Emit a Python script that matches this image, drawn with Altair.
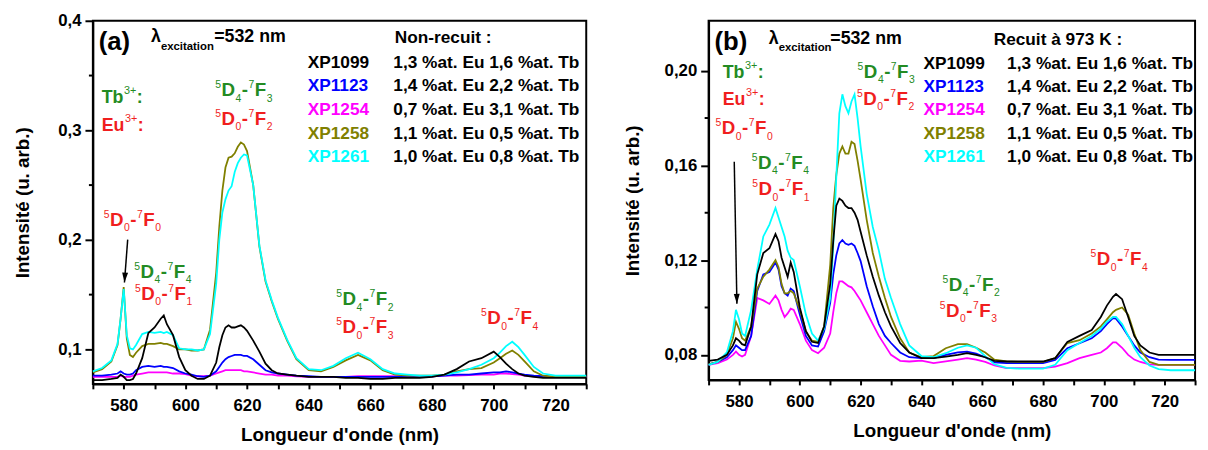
import altair as alt
import pandas as pd

FONT = "Liberation Sans"
GREEN = "#238b23"
RED = "#f01e1e"

SAMPLES = ["XP1099", "XP1123", "XP1254", "XP1258", "XP1261"]
SAMPLE_COLORS = ["#000000", "#0000ff", "#ff00ff", "#808000", "#00ffff"]
COMPOSITIONS = ["1,3 %at. Eu 1,6 %at. Tb", "1,4 %at. Eu 2,2 %at. Tb",
                "0,7 %at. Eu 3,1 %at. Tb", "1,1 %at. Eu 0,5 %at. Tb",
                "1,0 %at. Eu 0,8 %at. Tb"]
DRAW_ORDER = ["XP1254", "XP1123", "XP1258", "XP1261", "XP1099"]

# ---------------- panel (a) : non-recuit ----------------
WL_A = [570, 573, 576, 578, 579, 580, 581, 582, 583, 584,
        586, 588, 590, 592, 593, 594, 596, 598, 600, 602,
        604, 606, 608, 610, 611, 612, 613, 614, 615, 616,
        617, 618, 619, 620, 622, 624, 626, 628, 630, 633,
        636, 640, 644, 648, 652, 656, 660, 664, 668, 672,
        676, 680, 684, 688, 692, 696, 700, 702, 704, 706,
        708, 710, 713, 716, 720, 725, 730]
A_XP1099 = [0.072, 0.072, 0.073, 0.074, 0.077, 0.075, 0.072, 0.072, 0.073, 0.078,
            0.092, 0.115, 0.120, 0.128, 0.131, 0.123, 0.113, 0.093, 0.081, 0.076,
            0.073, 0.073, 0.076, 0.088, 0.102, 0.113, 0.120, 0.122, 0.120, 0.120,
            0.121, 0.122, 0.120, 0.117, 0.108, 0.098, 0.087, 0.081, 0.078, 0.077,
            0.076, 0.075, 0.075, 0.075, 0.074, 0.074, 0.073, 0.073, 0.074, 0.074,
            0.074, 0.075, 0.077, 0.082, 0.089, 0.092, 0.098, 0.093, 0.087, 0.082,
            0.078, 0.076, 0.075, 0.074, 0.074, 0.074, 0.074]
A_XP1123 = [0.076, 0.076, 0.077, 0.078, 0.080, 0.078, 0.077, 0.077, 0.078, 0.081,
            0.084, 0.085, 0.084, 0.085, 0.084, 0.084, 0.083, 0.080, 0.078, 0.077,
            0.0755, 0.075, 0.076, 0.080, 0.084, 0.088, 0.091, 0.093, 0.094, 0.095,
            0.095, 0.095, 0.094, 0.094, 0.091, 0.086, 0.081, 0.079, 0.078, 0.077,
            0.076, 0.0755, 0.075, 0.075, 0.075, 0.075, 0.075, 0.075, 0.075, 0.075,
            0.075, 0.0755, 0.076, 0.077, 0.077, 0.078, 0.079, 0.079, 0.080, 0.079,
            0.078, 0.077, 0.076, 0.0755, 0.075, 0.075, 0.075]
A_XP1254 = [0.075, 0.075, 0.075, 0.075, 0.076, 0.075, 0.075, 0.075, 0.076, 0.077,
            0.078, 0.079, 0.079, 0.079, 0.079, 0.079, 0.078, 0.078, 0.0775, 0.076,
            0.0755, 0.0755, 0.076, 0.078, 0.079, 0.080, 0.081, 0.081, 0.081, 0.081,
            0.081, 0.081, 0.080, 0.080, 0.079, 0.078, 0.077, 0.077, 0.076, 0.076,
            0.0755, 0.075, 0.075, 0.075, 0.075, 0.0755, 0.0755, 0.0755, 0.0755, 0.0755,
            0.0755, 0.0755, 0.076, 0.076, 0.0765, 0.077, 0.077, 0.078, 0.078, 0.0775,
            0.077, 0.076, 0.0755, 0.075, 0.075, 0.075, 0.075]
A_XP1258 = [0.079, 0.082, 0.089, 0.104, 0.128, 0.157, 0.110, 0.095, 0.093, 0.097,
            0.103, 0.105, 0.105, 0.106, 0.105, 0.105, 0.103, 0.100, 0.100, 0.099,
            0.099, 0.100, 0.118, 0.170, 0.212, 0.245, 0.266, 0.275, 0.276, 0.279,
            0.285, 0.289, 0.287, 0.281, 0.250, 0.194, 0.162, 0.144, 0.128, 0.108,
            0.091, 0.081, 0.080, 0.084, 0.090, 0.095, 0.090, 0.081, 0.077, 0.076,
            0.076, 0.076, 0.077, 0.080, 0.082, 0.083, 0.088, 0.092, 0.096, 0.099,
            0.095, 0.089, 0.080, 0.076, 0.075, 0.075, 0.075]
A_XP1261 = [0.080, 0.083, 0.090, 0.105, 0.128, 0.155, 0.113, 0.101, 0.100, 0.104,
            0.114, 0.116, 0.115, 0.116, 0.115, 0.116, 0.113, 0.101, 0.100, 0.100,
            0.099, 0.100, 0.114, 0.160, 0.200, 0.225, 0.237, 0.245, 0.249, 0.262,
            0.270, 0.275, 0.278, 0.277, 0.250, 0.195, 0.163, 0.145, 0.129, 0.109,
            0.092, 0.082, 0.081, 0.085, 0.092, 0.097, 0.091, 0.082, 0.078, 0.077,
            0.076, 0.076, 0.077, 0.079, 0.082, 0.086, 0.092, 0.097, 0.103, 0.107,
            0.102, 0.095, 0.084, 0.078, 0.076, 0.076, 0.076]

# ---------------- panel (b) : recuit a 973 K ----------------
WL_B = [570, 573, 576, 578, 579, 580, 581, 582, 584, 586,
        588, 590, 592, 593, 594, 595, 596, 597, 598, 600,
        602, 604, 606, 608, 610, 611, 612, 613, 614, 615,
        616, 617, 618, 619, 620, 622, 624, 626, 628, 630,
        633, 636, 640, 644, 648, 652, 655, 658, 661, 664,
        668, 672, 676, 680, 684, 688, 692, 696, 699, 701,
        703, 704, 706, 708, 710, 712, 715, 718, 722, 726,
        730]
B_XP1099 = [0.0775, 0.078, 0.080, 0.084, 0.087, 0.086, 0.0845, 0.084, 0.092, 0.114,
            0.123, 0.125, 0.131, 0.128, 0.121, 0.117, 0.113, 0.119, 0.115, 0.100,
            0.090, 0.0855, 0.085, 0.092, 0.110, 0.128, 0.143, 0.146, 0.145, 0.143,
            0.142, 0.142, 0.140, 0.137, 0.132, 0.122, 0.113, 0.105, 0.098, 0.092,
            0.085, 0.081, 0.0786, 0.0786, 0.0793, 0.080, 0.0807, 0.080, 0.079, 0.0775,
            0.0772, 0.0772, 0.0772, 0.0772, 0.0786, 0.0855, 0.088, 0.0905, 0.096, 0.1008,
            0.1045, 0.1057, 0.1035, 0.096, 0.088, 0.084, 0.081, 0.080, 0.080, 0.080,
            0.080]
B_XP1123 = [0.076, 0.077, 0.079, 0.082, 0.084, 0.083, 0.082, 0.082, 0.088, 0.107,
            0.114, 0.115, 0.119, 0.116, 0.109, 0.106, 0.105, 0.108, 0.107, 0.097,
            0.088, 0.084, 0.0835, 0.090, 0.102, 0.114, 0.122, 0.127, 0.1285, 0.127,
            0.1265, 0.127, 0.126, 0.123, 0.1196, 0.109, 0.1005, 0.093, 0.088, 0.085,
            0.081, 0.079, 0.0786, 0.0786, 0.080, 0.081, 0.0814, 0.0805, 0.079, 0.0768,
            0.0765, 0.0765, 0.0765, 0.0765, 0.0779, 0.0828, 0.0849, 0.087, 0.090, 0.093,
            0.0955, 0.0953, 0.092, 0.088, 0.084, 0.081, 0.079, 0.078, 0.0779, 0.0779,
            0.0779]
B_XP1254 = [0.0758, 0.0765, 0.078, 0.080, 0.0814, 0.080, 0.0793, 0.080, 0.088, 0.104,
            0.103, 0.1015, 0.105, 0.103, 0.099, 0.096, 0.0975, 0.0995, 0.099, 0.093,
            0.086, 0.082, 0.0807, 0.083, 0.089, 0.098, 0.106, 0.111, 0.111, 0.110,
            0.109, 0.1085, 0.107, 0.105, 0.103, 0.098, 0.093, 0.088, 0.084, 0.080,
            0.0775, 0.0772, 0.0776, 0.0765, 0.0772, 0.078, 0.0786, 0.078, 0.077, 0.0755,
            0.0744, 0.0744, 0.0744, 0.0744, 0.075, 0.0765, 0.0786, 0.080, 0.081, 0.0828,
            0.0853, 0.0853, 0.083, 0.080, 0.078, 0.077, 0.076, 0.0758, 0.0758, 0.0758,
            0.0758]
B_XP1258 = [0.076, 0.077, 0.080, 0.087, 0.094, 0.091, 0.087, 0.086, 0.092, 0.108,
            0.113, 0.116, 0.120, 0.117, 0.110, 0.106, 0.106, 0.107, 0.106, 0.099,
            0.090, 0.086, 0.0855, 0.092, 0.118, 0.142, 0.156, 0.165, 0.168, 0.165,
            0.165, 0.170, 0.169, 0.162, 0.154, 0.137, 0.123, 0.113, 0.104, 0.096,
            0.087, 0.081, 0.079, 0.0795, 0.0828, 0.0845, 0.0845, 0.083, 0.081, 0.078,
            0.0772, 0.077, 0.077, 0.077, 0.0786, 0.085, 0.0862, 0.089, 0.092, 0.095,
            0.098, 0.099, 0.100, 0.097, 0.089, 0.082, 0.077, 0.0758, 0.0758, 0.0758,
            0.0758]
B_XP1261 = [0.0758, 0.077, 0.081, 0.090, 0.099, 0.095, 0.089, 0.088, 0.099, 0.116,
            0.130, 0.135, 0.142, 0.138, 0.134, 0.130, 0.124, 0.121, 0.120, 0.109,
            0.097, 0.089, 0.086, 0.091, 0.104, 0.126, 0.155, 0.182, 0.190, 0.185,
            0.182, 0.187, 0.190, 0.180, 0.168, 0.148, 0.134, 0.124, 0.112, 0.104,
            0.093, 0.084, 0.0795, 0.079, 0.0807, 0.083, 0.084, 0.083, 0.0795, 0.076,
            0.0745, 0.0742, 0.0742, 0.0742, 0.0758, 0.082, 0.085, 0.088, 0.091, 0.094,
            0.096, 0.096, 0.093, 0.088, 0.083, 0.079, 0.0755, 0.074, 0.0735, 0.0735,
            0.0735]

X_TICKS = list(range(570, 731, 10))
YA_MAJOR = [0.1, 0.2, 0.3, 0.4]
YA_MINOR = [0.15, 0.25, 0.35]
YB_MAJOR = [0.08, 0.12, 0.16, 0.20]
YB_MINOR = [0.10, 0.14, 0.18]

# ---------------- geometry (page pixels of each plot area and its value range) ----------------
GEO_A = dict(W=500, H=368, ydom=[0.0685, 0.4], ox=94, oy=16.5)
GEO_B = dict(W=493, H=364, ydom=[0.0694, 0.22106], ox=713, oy=16.5)

# (markup, colour, page x, page y baseline, main font size)
LABELS_A = [("Tb^{3+} :", GREEN, 103, 100, 18), ("Eu^{3+} :", RED, 103, 128, 18),
            ("^5D_4-^7F_3", GREEN, 218, 93, 19), ("^5D_0-^7F_2", RED, 218, 121.7, 19),
            ("^5D_0-^7F_0", RED, 105, 224, 19), ("^5D_4-^7F_4", GREEN, 136, 276.7, 19),
            ("^5D_0-^7F_1", RED, 136.7, 299, 19), ("^5D_4-^7F_2", GREEN, 340.7, 305, 19),
            ("^5D_0-^7F_3", RED, 340.7, 333.3, 19), ("^5D_0-^7F_4", RED, 487.3, 324, 19)]
LABELS_B = [("Tb^{3+} :", GREEN, 727.3, 74, 18), ("Eu^{3+} :", RED, 727.3, 101.7, 18),
            ("^5D_0-^7F_0", RED, 720, 131.7, 19), ("^5D_4-^7F_4", GREEN, 756.7, 166.7, 19),
            ("^5D_0-^7F_1", RED, 757.3, 193.3, 19), ("^5D_4-^7F_3", GREEN, 864, 74, 19),
            ("^5D_0-^7F_2", RED, 863.3, 101.7, 19), ("^5D_4-^7F_2", GREEN, 950, 290, 19),
            ("^5D_0-^7F_3", RED, 947.3, 316.7, 19), ("^5D_0-^7F_4", RED, 1100, 264.3, 19)]

# (text, colour, page x, page y, size, weight, align)
HEAD_A = [("(a)", "black", 100, 46.5, 26, "bold", "left"),
          ("λ", "black", 153, 38.5, 18, "bold", "left"),
          ("excitation", "black", 163, 46, 11.5, "bold", "left"),
          ("=532 nm", "black", 217, 38.5, 18, "bold", "left"),
          ("Non-recuit :", "black", 449, 39.3, 17.5, "bold", "center")]
HEAD_B = [("(b)", "black", 719, 46, 26, "bold", "left"),
          ("λ", "black", 774, 40, 18, "bold", "left"),
          ("excitation", "black", 784, 46.7, 11.5, "bold", "left"),
          ("=532 nm", "black", 836.3, 40, 18, "bold", "left"),
          ("Recuit à 973 K :", "black", 1067, 40.7, 17.5, "bold", "center")]
LEGEND_A = dict(name_x=311.7, comp_x=587, y0=64, dy=24)
LEGEND_B = dict(name_x=930.7, comp_x=1204, y0=65, dy=23.7)

# arrows: (page x start, page y start, page x tip, page y tip, head angle)
ARROW_A = (129.3, 238.3, 126, 281.7, 4)
ARROW_B = (739, 159.3, 741.7, 303.3, 359)

BOLD_W = {'D': 722, 'F': 611, '-': 333, 'T': 611, 'b': 611, 'E': 667, 'u': 611,
          ':': 333, ' ': 278}
REG_W = {'+': 584}


def parse_markup(s):
    out, buf, i = [], "", 0
    while i < len(s):
        c = s[i]
        if c in "^_":
            if buf:
                out.append(("main", buf))
                buf = ""
            kind = "sup" if c == "^" else "sub"
            if s[i + 1] == "{":
                j = s.index("}", i)
                out.append((kind, s[i + 2:j]))
                i = j + 1
            else:
                out.append((kind, s[i + 1]))
                i += 2
        else:
            buf += c
            i += 1
    if buf:
        out.append(("main", buf))
    return out


def width(t, fs, bold):
    table = BOLD_W if bold else REG_W
    return sum(table.get(ch, 556) for ch in t) * fs / 1000.0


def to_data(p, px, py):
    nm = 570 + (px - p["ox"]) * 160.0 / p["W"]
    y0, y1 = p["ydom"]
    val = y1 - (py - p["oy"]) * (y1 - y0) / p["H"]
    return nm, val


def text_pieces(p, labels, heads, legend):
    rows = []
    for markup, col, px, py, fs in labels:
        sfs = 11 if fs == 18 else 10.5
        x = 0.0
        for kind, t in parse_markup(markup):
            if kind == "main":
                f, wgt, dy = fs, "bold", 0
            elif kind == "sup":
                f, wgt = sfs, "normal"
                dy = -(0.716 * fs + (4 if fs == 18 else 2) - 0.716 * sfs)
            else:
                f, wgt, dy = sfs, "normal", 5.5
            nm, val = to_data(p, px + x, py + dy)
            rows.append(dict(nm=nm, val=val, text=t, color=col, fs=f, weight=wgt, align="left"))
            x += width(t, f, wgt == "bold") + 0.5
    for t, col, px, py, fs, wgt, al in heads:
        nm, val = to_data(p, px, py)
        rows.append(dict(nm=nm, val=val, text=t, color=col, fs=fs, weight=wgt, align=al))
    for i, s in enumerate(SAMPLES):
        py = legend["y0"] + legend["dy"] * i
        nm, val = to_data(p, legend["name_x"], py)
        rows.append(dict(nm=nm, val=val, text=s, color=SAMPLE_COLORS[i], fs=17.5,
                         weight="bold", align="left"))
        nm, val = to_data(p, legend["comp_x"], py)
        rows.append(dict(nm=nm, val=val, text=COMPOSITIONS[i], color="black", fs=17.5,
                         weight="bold", align="right"))
    return pd.DataFrame(rows)


def axis_common(**kw):
    return alt.Axis(labelFont=FONT, labelFontSize=17, labelFontWeight="bold", labelColor="black",
                    titleFont=FONT, titleFontSize=19, titleFontWeight="bold", titleColor="black",
                    domainColor="black", domainWidth=2, tickColor="black", tickWidth=2,
                    grid=False, labelOverlap=False, labelFlush=False, **kw)


def build_panel(p, wl, series, labels, heads, legend, major, minor, fmt, arrow, ytp):
    xs = alt.Scale(domain=[570, 730], nice=False, zero=False)
    ys = alt.Scale(domain=p["ydom"], nice=False, zero=False)
    xaxis = axis_common(values=X_TICKS, tickSize=5, labelPadding=9, titlePadding=12,
                        labelExpr="datum.value % 20 == 0 ? datum.value : ''",
                        title="Longueur d'onde (nm)")
    yaxis = axis_common(values=major, tickSize=8, labelPadding=4, titlePadding=ytp,
                        labelExpr="replace(format(datum.value, '%s'), '.', ',')" % fmt,
                        title="Intensité (u. arb.)")
    X = alt.X("nm:Q", scale=xs, axis=xaxis)
    Y = alt.Y("val:Q", scale=ys, axis=yaxis)
    layers = []
    for s in DRAW_ORDER:
        i = SAMPLES.index(s)
        assert len(series[s]) == len(wl), s
        df = pd.DataFrame({"nm": wl, "val": series[s]})
        layers.append(alt.Chart(df).mark_line(color=SAMPLE_COLORS[i], strokeWidth=1.8).encode(x=X, y=Y))
    layers.append(alt.Chart(pd.DataFrame({"val": minor})).mark_rule(color="black", strokeWidth=2)
                  .encode(y=Y, x=alt.value(-4), x2=alt.value(0)))
    x0, y0 = to_data(p, arrow[0], arrow[1])
    x1, y1 = to_data(p, arrow[2], arrow[3])
    adf = pd.DataFrame({"nm": [x0], "val": [y0], "nm2": [x1], "val2": [y1]})
    layers.append(alt.Chart(adf).mark_rule(color="black", strokeWidth=1.5)
                  .encode(x=X, y=Y, x2="nm2:Q", y2="val2:Q"))
    hdf = pd.DataFrame({"nm": [x1], "val": [y1]})
    layers.append(alt.Chart(hdf).mark_point(shape="M-1.5,-5L1.5,-5L0,0Z", filled=True, size=16,
                                            color="black", opacity=1, angle=arrow[4])
                  .encode(x=X, y=Y))
    tdf = text_pieces(p, labels, heads, legend)
    for (fs, wgt, al), g in tdf.groupby(["fs", "weight", "align"]):
        layers.append(alt.Chart(g.reset_index(drop=True)).mark_text(
            font=FONT, fontSize=float(fs), fontWeight=wgt, align=al, baseline="alphabetic")
            .encode(x=X, y=Y, text="text:N", color=alt.Color("color:N", scale=None)))
    return alt.layer(*layers).properties(width=p["W"], height=p["H"])


SER_A = dict(zip(SAMPLES, [A_XP1099, A_XP1123, A_XP1254, A_XP1258, A_XP1261]))
SER_B = dict(zip(SAMPLES, [B_XP1099, B_XP1123, B_XP1254, B_XP1258, B_XP1261]))

pa = build_panel(GEO_A, WL_A, SER_A, LABELS_A, HEAD_A, LEGEND_A, YA_MAJOR, YA_MINOR,
                 ".1f", ARROW_A, 26)
pb = build_panel(GEO_B, WL_B, SER_B, LABELS_B, HEAD_B, LEGEND_B, YB_MAJOR, YB_MINOR,
                 ".2f", ARROW_B, 22)

chart = (alt.hconcat(pa, pb, spacing=31)
         .properties(padding={"left": 4, "top": 0, "right": 0, "bottom": 0}, background="white")
         .configure_view(stroke="black", strokeWidth=2))

chart.save("out.html", embed_options={"renderer": "svg", "actions": False})
